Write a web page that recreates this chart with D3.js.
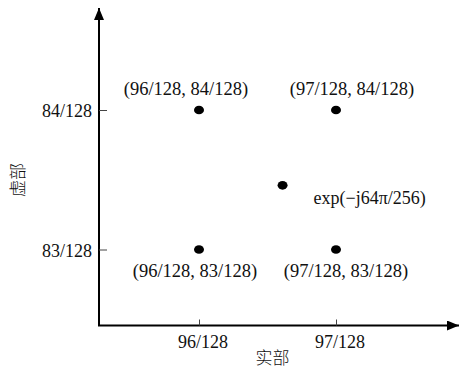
<!DOCTYPE html>
<html>
<head>
<meta charset="utf-8">
<script src="https://cdn.jsdelivr.net/npm/d3@7"></script>
<style>
  html, body { margin: 0; padding: 0; background: #fff; }
  svg { display: block; }
  text { fill: #111; }
</style>
</head>
<body>
<svg id="chart" width="459" height="368"></svg>
<script>
// Grid of constellation points (real, imag) in units of 1/128
const xTicks = [96, 97];
const yTicks = [83, 84];
const xTickLabels = ["96/128", "97/128"];
const yTickLabels = ["83/128", "84/128"];

const cornerRe = [96, 97, 96, 97];
const cornerIm = [84, 84, 83, 83];
const cornerLabels = ["(96/128, 84/128)", "(97/128, 84/128)", "(96/128, 83/128)", "(97/128, 83/128)"];

// The rotated sample lying between the grid points
const sampleRe = [96.61];
const sampleIm = [83.46];
const sampleLabels = ["exp(\u2212j64\u03c0/256)"];

const xTitle = "实部";
const yTitle = "虚部";

const svg = d3.select("#chart");
const serif = "'Liberation Serif', 'Times New Roman', serif";
const cjk = "'Noto Sans CJK SC', sans-serif";

const x = d3.scaleLinear().domain([96, 97]).range([199, 336]);
const y = d3.scaleLinear().domain([83, 84]).range([249.5, 110]);

const originX = 99, originY = 325.5;

// Arrowheads
const defs = svg.append("defs");
defs.append("marker")
  .attr("id", "arrow")
  .attr("viewBox", "0 0 12 10")
  .attr("refX", 12).attr("refY", 5)
  .attr("markerWidth", 12).attr("markerHeight", 10)
  .attr("markerUnits", "userSpaceOnUse")
  .attr("orient", "auto")
  .append("path")
  .attr("d", "M0,0 L12,5 L0,10 Z")
  .attr("fill", "#000");

// Axes
svg.append("line")
  .attr("x1", originX).attr("y1", originY)
  .attr("x2", originX).attr("y2", 8)
  .attr("stroke", "#000").attr("stroke-width", 2)
  .attr("marker-end", "url(#arrow)");
svg.append("line")
  .attr("x1", originX - 1).attr("y1", originY)
  .attr("x2", 459).attr("y2", originY)
  .attr("stroke", "#000").attr("stroke-width", 2)
  .attr("marker-end", "url(#arrow)");

// X ticks (pointing up) and labels
const xAxis = d3.axisTop(x).tickValues(xTicks).tickSize(6)
  .tickFormat(() => "");
const gx = svg.append("g").attr("transform", `translate(0,${originY})`).call(xAxis);
gx.select(".domain").remove();
gx.selectAll(".tick line").attr("stroke", "#444").attr("stroke-width", 1);

svg.selectAll(".xlab").data(xTicks).enter().append("text")
  .attr("class", "xlab")
  .attr("x", d => x(d) + 4).attr("y", 348)
  .attr("text-anchor", "middle")
  .style("font-family", serif).style("font-size", "18px")
  .text((d, i) => xTickLabels[i]);

// Y ticks (pointing right) and labels
const yAxis = d3.axisRight(y).tickValues(yTicks).tickSize(8)
  .tickFormat(() => "");
const gy = svg.append("g").attr("transform", `translate(${originX},0)`).call(yAxis);
gy.select(".domain").remove();
gy.selectAll(".tick line").attr("stroke", "#444").attr("stroke-width", 1);

svg.selectAll(".ylab").data(yTicks).enter().append("text")
  .attr("class", "ylab")
  .attr("x", 92).attr("y", d => y(d) + 7)
  .attr("text-anchor", "end")
  .style("font-family", serif).style("font-size", "18px")
  .text((d, i) => yTickLabels[i]);

// Axis titles
svg.append("text")
  .attr("x", 272.5).attr("y", 364)
  .attr("text-anchor", "middle")
  .style("font-family", cjk).style("font-size", "17px").style("font-weight", 300)
  .text(xTitle);
svg.append("text")
  .attr("transform", "translate(24,180) rotate(-90)")
  .attr("text-anchor", "middle")
  .style("font-family", cjk).style("font-size", "17px").style("font-weight", 300)
  .text(yTitle);

// Grid points
svg.selectAll(".corner").data(cornerRe).enter().append("ellipse")
  .attr("class", "corner")
  .attr("cx", d => x(d)).attr("cy", (d, i) => y(cornerIm[i]))
  .attr("rx", 5).attr("ry", 4.3)
  .attr("fill", "#000");

// Grid point labels: top row above the dot, bottom row below
const labelDx = [-13, 16, -4, 10];
svg.selectAll(".clab").data(cornerLabels).enter().append("text")
  .attr("class", "clab")
  .attr("x", (d, i) => x(cornerRe[i]) + labelDx[i])
  .attr("y", (d, i) => cornerIm[i] === 84 ? y(cornerIm[i]) - 15 : y(cornerIm[i]) + 27)
  .attr("text-anchor", "middle")
  .style("font-family", serif).style("font-size", "18.5px")
  .text(d => d);

// Rotated sample
svg.selectAll(".sample").data(sampleRe).enter().append("ellipse")
  .attr("class", "sample")
  .attr("cx", d => x(d)).attr("cy", (d, i) => y(sampleIm[i]))
  .attr("rx", 5).attr("ry", 4.3)
  .attr("fill", "#000");
svg.selectAll(".slab").data(sampleLabels).enter().append("text")
  .attr("class", "slab")
  .attr("x", (d, i) => x(sampleRe[i]) + 31)
  .attr("y", (d, i) => y(sampleIm[i]) + 18.5)
  .style("font-family", serif).style("font-size", "18px")
  .text(d => d);
</script>
</body>
</html>
